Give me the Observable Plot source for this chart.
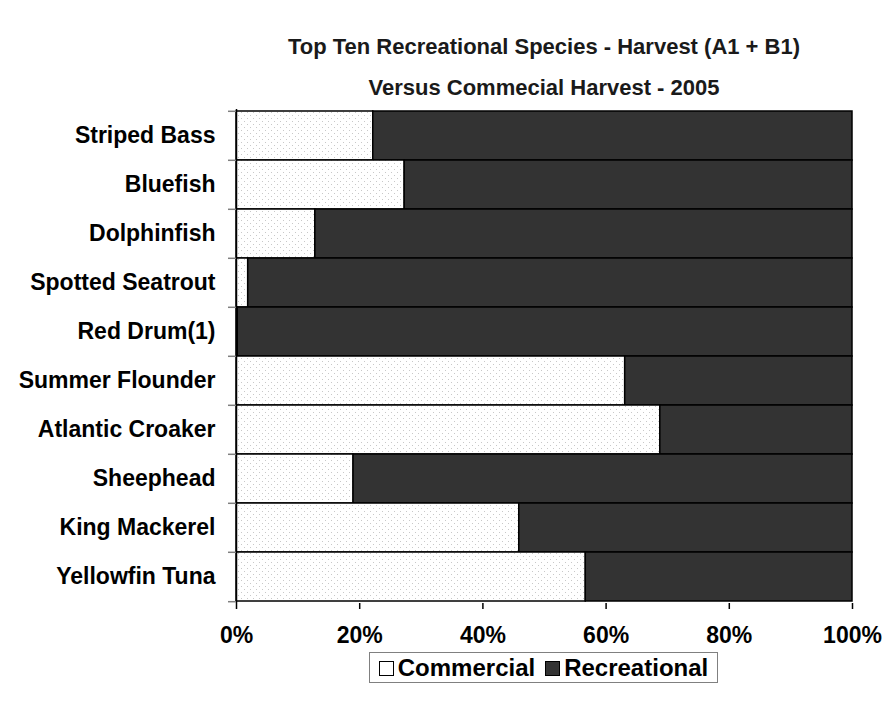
<!DOCTYPE html>
<html>
<head>
<meta charset="utf-8">
<script src="https://cdn.jsdelivr.net/npm/d3@7"></script>
<script src="https://cdn.jsdelivr.net/npm/@observablehq/plot@0.6"></script>
<style>
  body { margin: 0; background: #fff; font-family: "Liberation Sans", Arial, sans-serif; color: #000; }
  #wrap { position: relative; width: 885px; height: 704px; }
  .title { position: absolute; left: 236px; width: 616px; text-align: center; font-weight: bold; font-size: 22px; line-height: 22px; color: #1a1a1a; }
  #chart { position: absolute; left: 0; top: 105px; }
  #legend { position: absolute; left: 369px; top: 652px; width: 349px; height: 31px; border: 1px solid #808080; box-sizing: border-box;
            display: flex; align-items: center; justify-content: center; font-weight: bold; font-size: 24px; gap: 10px; line-height: 24px; }
  .sw { display: inline-block; width: 15px; height: 15px; border: 1px solid #000; box-sizing: border-box; margin-right: 4px; vertical-align: 0px; }
</style>
</head>
<body>
<svg width="0" height="0" style="position:absolute">
  <defs>
    <pattern id="dots" width="6" height="6" patternUnits="userSpaceOnUse">
      <rect width="6" height="6" fill="#ffffff"></rect>
      <rect x="1" y="1" width="1" height="1" fill="#c8c8c8"></rect>
      <rect x="4" y="4" width="1" height="1" fill="#c8c8c8"></rect>
    </pattern>
  </defs>
</svg>
<div id="wrap">
  <div class="title" style="top:36px">Top Ten Recreational Species - Harvest (A1 + B1)</div>
  <div class="title" style="top:77px">Versus Commecial Harvest - 2005</div>
  <div id="chart"></div>
  <div id="legend"></div>
</div>
<script>
const species = ["Striped Bass", "Bluefish", "Dolphinfish", "Spotted Seatrout", "Red Drum(1)",
  "Summer Flounder", "Atlantic Croaker", "Sheephead", "King Mackerel", "Yellowfin Tuna"];
const commercial = [22.2, 27.3, 12.8, 1.9, 0.2, 63.1, 68.8, 19.0, 45.9, 56.7];
const recreational = [77.8, 72.7, 87.2, 98.1, 99.8, 36.9, 31.2, 81.0, 54.1, 43.3];
const seriesNames = ["Commercial", "Recreational"];
const seriesFills = ["url(#dots)", "#333333"];
const xTicks = [0, 20, 40, 60, 80, 100];

const data = species.flatMap((s, i) => [
  {species: s, type: seriesNames[0], value: commercial[i]},
  {species: s, type: seriesNames[1], value: recreational[i]}
]);

const H = 545, mTop = 4, mBottom = 47;
const step = (H - mTop - mBottom) / species.length;

const chart = Plot.plot({
  width: 885, height: H,
  marginLeft: 236, marginRight: 33, marginTop: mTop, marginBottom: mBottom,
  style: {fontFamily: '"Liberation Sans", Arial, sans-serif', color: "#000", background: "transparent", overflow: "visible"},
  x: {domain: [0, 100], label: null},
  y: {domain: species, padding: 0, label: null},
  color: {domain: seriesNames, range: seriesFills},
  marks: [
    Plot.barX(data, {x: "value", y: "species", fill: "type", stroke: "#000", strokeWidth: 1.5, order: seriesNames}),
    Plot.ruleX([0], {stroke: "#000", strokeWidth: 1.5}),
    Plot.axisY({tickSize: 0, tickPadding: 21, fontSize: 23, fontWeight: "bold"}),
    Plot.axisY(species, {text: null, tickSize: 8, dy: -step / 2, stroke: "#808080", strokeWidth: 1.5}),
    Plot.axisY([species[species.length - 1]], {text: null, tickSize: 8, dy: step / 2, stroke: "#808080", strokeWidth: 1.5}),
    Plot.axisX({ticks: xTicks, tickFormat: d => d + "%", tickSize: 6, tickPadding: 17, fontSize: 23, fontWeight: "bold", strokeWidth: 1.5})
  ]
});
document.getElementById("chart").appendChild(chart);

const legend = document.getElementById("legend");
seriesNames.forEach((name, i) => {
  const item = document.createElement("span");
  const sw = document.createElement("span");
  sw.className = "sw";
  sw.style.background = i === 0 ? "#fff" : seriesFills[i];
  item.appendChild(sw);
  item.appendChild(document.createTextNode(name));
  legend.appendChild(item);
});
</script>
</body>
</html>
